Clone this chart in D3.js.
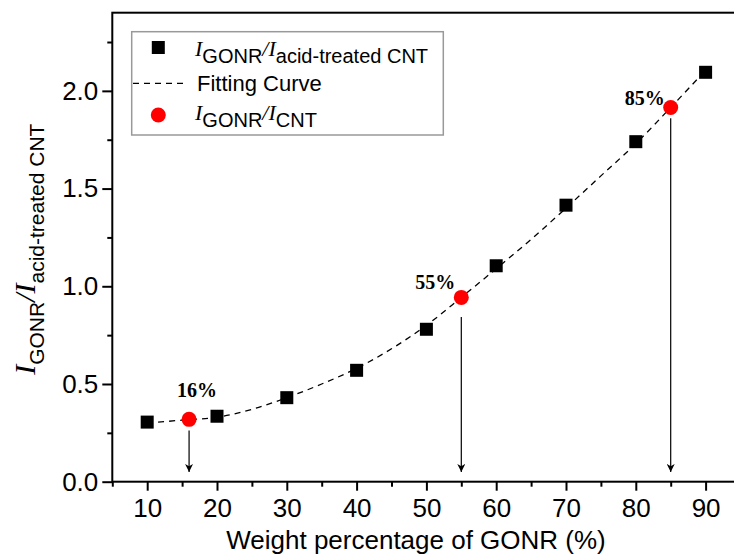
<!DOCTYPE html>
<html>
<head>
<meta charset="utf-8">
<script src="https://cdn.jsdelivr.net/npm/d3@7"></script>
<style>
  html, body { margin: 0; padding: 0; background: #fff; }
  svg { display: block; }
</style>
</head>
<body>
<svg id="chart" width="734" height="557"></svg>
<script>
// ---- data ----
const weightPct = [10, 20, 30, 40, 50, 60, 70, 80, 90];
const ratioAcidTreated = [0.305, 0.335, 0.43, 0.57, 0.78, 1.105, 1.415, 1.74, 2.095];
const fitX = [10, 15, 20, 25, 30, 35, 40, 45, 50, 55, 60, 65, 70, 75, 80, 85, 90];
const fitY = [0.30, 0.315, 0.33, 0.37, 0.43, 0.50, 0.58, 0.68, 0.80, 0.943, 1.09, 1.24, 1.40, 1.565, 1.73, 1.915, 2.105];
const cntPct = [16, 55, 85];
const ratioCnt = [0.319, 0.943, 1.915];
const cntLabels = ["16%", "55%", "85%"];
const arrowTop = [0.262, 0.843, 1.86];
const arrowTip = 0.05;
const xMajorTicks = [10, 20, 30, 40, 50, 60, 70, 80, 90];
const xMinorTicks = [5, 15, 25, 35, 45, 55, 65, 75, 85, 95];
const yMajorTicks = [0.0, 0.5, 1.0, 1.5, 2.0];
const yMinorTicks = [0.25, 0.75, 1.25, 1.75, 2.25];

// ---- layout ----
const svg = d3.select("#chart");
const pL = 112.3, pT = 12.7, pB = 481.7, pR = 740.5;
const x = d3.scaleLinear().domain([5, 95]).range([pL, pR]);
const y = d3.scaleLinear().domain([0, 2.4]).range([pB, pT]);

const SANS = "'Liberation Sans', Arial, sans-serif";
const SERIF = "'Liberation Serif', 'Times New Roman', serif";

// ---- axes ----
const gx = svg.append("g").attr("transform", `translate(0,${pB})`);
gx.call(d3.axisBottom(x).tickValues(xMajorTicks).tickSize(9).tickPadding(8).tickFormat(d3.format("d")));
gx.call(g => g.select(".domain").remove());
gx.selectAll("text").attr("font-family", SANS).attr("font-size", 26).attr("fill", "#000");
gx.selectAll("line").attr("stroke", "#000").attr("stroke-width", 2);
const gxm = svg.append("g").attr("transform", `translate(0,${pB})`);
gxm.call(d3.axisBottom(x).tickValues(xMinorTicks).tickSize(5).tickFormat(""));
gxm.call(g => g.select(".domain").remove());
gxm.selectAll("line").attr("stroke", "#000").attr("stroke-width", 2);

const gy = svg.append("g").attr("transform", `translate(${pL},0)`);
gy.call(d3.axisLeft(y).tickValues(yMajorTicks).tickSize(10).tickPadding(4).tickFormat(d3.format(".1f")));
gy.call(g => g.select(".domain").remove());
gy.selectAll("text").attr("font-family", SANS).attr("font-size", 26).attr("fill", "#000");
gy.selectAll("line").attr("stroke", "#000").attr("stroke-width", 2);
const gym = svg.append("g").attr("transform", `translate(${pL},0)`);
gym.call(d3.axisLeft(y).tickValues(yMinorTicks).tickSize(5).tickFormat(""));
gym.call(g => g.select(".domain").remove());
gym.selectAll("line").attr("stroke", "#000").attr("stroke-width", 2);

// frame
svg.append("rect")
  .attr("x", pL).attr("y", pT)
  .attr("width", pR - pL).attr("height", pB - pT)
  .attr("fill", "none").attr("stroke", "#000").attr("stroke-width", 2);

// ---- fitting curve ----
const line = d3.line().x(d => x(d[0])).y(d => y(d[1])).curve(d3.curveCatmullRom);
svg.append("path")
  .datum(fitX.map((v, i) => [v, fitY[i]]))
  .attr("d", line)
  .attr("fill", "none").attr("stroke", "#000")
  .attr("stroke-width", 1.3).attr("stroke-dasharray", "6,5");

// ---- arrows ----
const defs = svg.append("defs");
defs.append("marker").attr("id", "arrow")
  .attr("viewBox", "0 0 10 10").attr("refX", 10).attr("refY", 5)
  .attr("markerWidth", 14).attr("markerHeight", 8)
  .attr("markerUnits", "userSpaceOnUse")
  .attr("orient", "auto")
  .append("path").attr("d", "M0,0 L10,5 L0,10 L3,5 Z").attr("fill", "#000");

svg.selectAll(".arrow").data(cntPct).enter().append("line")
  .attr("x1", d => x(d)).attr("x2", d => x(d))
  .attr("y1", (d, i) => y(arrowTop[i])).attr("y2", y(arrowTip))
  .attr("stroke", "#000").attr("stroke-width", 1.2)
  .attr("marker-end", "url(#arrow)");

// ---- squares ----
const sq = 13;
svg.selectAll(".sq").data(weightPct).enter().append("rect")
  .attr("x", d => x(d) - sq / 2)
  .attr("y", (d, i) => y(ratioAcidTreated[i]) - sq / 2)
  .attr("width", sq).attr("height", sq).attr("fill", "#000");

// ---- red circles ----
svg.selectAll(".dot").data(cntPct).enter().append("circle")
  .attr("cx", d => x(d)).attr("cy", (d, i) => y(ratioCnt[i]))
  .attr("r", 7.5).attr("fill", "#ff0000");

// ---- annotations ----
const annAnchor = ["start", "end", "end"];
const annDx = [-12, -6, -6];
const annDy = [-22, -8, -2];
svg.selectAll(".ann").data(cntPct).enter().append("text")
  .attr("x", (d, i) => x(d) + annDx[i])
  .attr("y", (d, i) => y(ratioCnt[i]) + annDy[i])
  .attr("text-anchor", (d, i) => annAnchor[i])
  .attr("font-family", SERIF).attr("font-weight", "bold").attr("font-size", 20)
  .text((d, i) => cntLabels[i]);

// ---- axis titles ----
svg.append("text")
  .attr("x", 416).attr("y", 549)
  .attr("text-anchor", "middle")
  .attr("font-family", SANS).attr("font-size", 26)
  .text("Weight percentage of GONR (%)");

function ratioLabel(sel, mainSize, subSize, shift, subA, subB) {
  sel.append("tspan").attr("font-family", SERIF).attr("font-style", "italic").attr("font-size", mainSize).text("I");
  sel.append("tspan").attr("font-family", SANS).attr("font-size", subSize).attr("dy", shift).text(subA);
  sel.append("tspan").attr("font-family", SERIF).attr("font-style", "italic").attr("font-size", mainSize).attr("dy", -shift).text("/I");
  sel.append("tspan").attr("font-family", SANS).attr("font-size", subSize).attr("dy", shift).text(subB);
}

const yt = svg.append("text")
  .attr("transform", `translate(35,${(pT + pB) / 2 + 2}) rotate(-90)`)
  .attr("text-anchor", "middle");
ratioLabel(yt, 30, 21, 9, "GONR", "acid-treated CNT");

// ---- legend ----
const lg = svg.append("g");
lg.append("rect").attr("x", 131.7).attr("y", 31.7).attr("width", 311.6).attr("height", 103.3)
  .attr("fill", "#fff").attr("stroke", "#999").attr("stroke-width", 1.5);
lg.append("rect").attr("x", 158.3 - sq / 2).attr("y", 47.5 - sq / 2).attr("width", sq).attr("height", sq).attr("fill", "#000");
lg.append("line").attr("x1", 133).attr("x2", 184).attr("y1", 83.3).attr("y2", 83.3)
  .attr("stroke", "#000").attr("stroke-width", 1.3).attr("stroke-dasharray", "6,5");
lg.append("circle").attr("cx", 158.3).attr("cy", 115).attr("r", 7.5).attr("fill", "#ff0000");

const l1 = lg.append("text").attr("x", 195).attr("y", 56);
ratioLabel(l1, 22, 20, 7, "GONR", "acid-treated CNT");
lg.append("text").attr("x", 197).attr("y", 90.7)
  .attr("font-family", SANS).attr("font-size", 22).text("Fitting Curve");
const l3 = lg.append("text").attr("x", 195).attr("y", 120);
ratioLabel(l3, 22, 20, 7, "GONR", "CNT");
</script>
</body>
</html>
